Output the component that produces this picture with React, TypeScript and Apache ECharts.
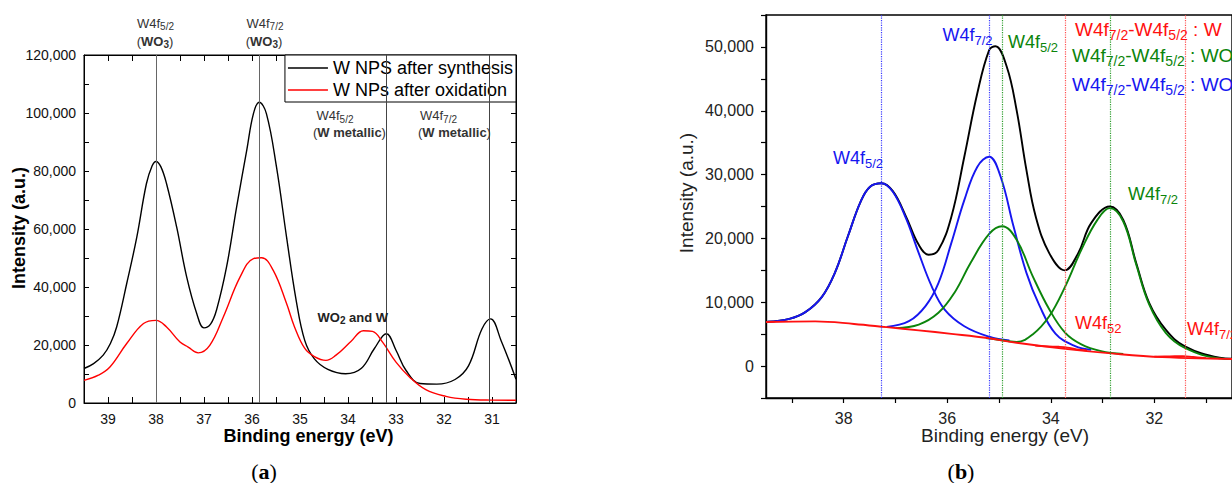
import React, { useEffect, useRef } from 'react';
import * as echarts from 'echarts';

const FONT = '"Liberation Sans", Arial, Helvetica, sans-serif';
const SERIF = '"Liberation Serif", "Times New Roman", serif';

// ---------- Panel (a) ----------
const legendA = ['W NPS after synthesis', 'W NPs after oxidation'];
const synthesisA: [number, number][] = [
  [39.5, 11900], [39.3, 13600], [39.1, 16500], [38.95, 20500], [38.82, 26200], [38.61, 41200],
  [38.4, 57200], [38.2, 75600], [38.08, 81800], [38.0, 83300], [37.9, 81500], [37.78, 75600],
  [37.57, 60700], [37.36, 43400], [37.15, 30800], [37.0, 25900], [36.86, 27300], [36.74, 32000],
  [36.53, 46900], [36.32, 67600], [36.11, 87100], [35.97, 99800], [35.85, 103700], [35.7, 99800],
  [35.49, 81400], [35.28, 57200], [35.08, 35400], [34.9, 21500], [34.7, 15200], [34.42, 11600],
  [34.05, 10100], [33.72, 12000], [33.45, 18800], [33.2, 23900], [33.0, 18200], [32.79, 11200],
  [32.5, 6700], [32.15, 6500], [31.77, 8100], [31.49, 12800], [31.21, 25500], [31.03, 29000],
  [30.81, 21500], [30.5, 8200],
];
const oxidationA: [number, number][] = [
  [39.5, 7800], [39.2, 9600], [38.96, 12400], [38.61, 20500], [38.26, 27400], [38.0, 28500],
  [37.78, 26200], [37.5, 21000], [37.33, 19300], [37.12, 17300], [36.88, 19900], [36.6, 29600],
  [36.25, 43400], [35.97, 49800], [35.8, 50100], [35.56, 45800], [35.28, 34300], [35.12, 26500],
  [34.9, 18800], [34.7, 16000], [34.46, 14700], [34.25, 16500], [33.94, 21200], [33.68, 24900],
  [33.49, 24700], [33.28, 21000], [33.0, 14100], [32.72, 9000], [32.38, 4600], [31.96, 2300],
  [31.54, 1300], [31.0, 1000], [30.5, 950],
];
const refLinesWO3A = [38.0, 35.85];
const refLinesWA = [33.2, 31.05];

// ---------- Panel (b) ----------
const envelopeB: [number, number][] = [
  [39.47, 6950], [39.05, 7400], [38.74, 8450], [38.42, 10850], [38.17, 14600], [37.92, 20300],
  [37.67, 25800], [37.49, 28100], [37.27, 28650], [37.05, 27400], [36.8, 23500], [36.55, 19000],
  [36.36, 17450], [36.17, 18200], [35.92, 23400], [35.67, 32800], [35.42, 42700], [35.19, 49500],
  [35.07, 50100], [34.85, 46900], [34.66, 40100], [34.47, 30700], [34.29, 23400], [34.03, 17700],
  [33.73, 15000], [33.47, 17700], [33.22, 22400], [32.86, 25000], [32.6, 22900], [32.35, 16150],
  [32.1, 9900], [31.78, 5700], [31.41, 3100], [30.74, 1300], [30.5, 1150],
];
const wo3f52B: [number, number][] = [
  [39.47, 6950], [39.05, 7400], [38.74, 8450], [38.42, 10850], [38.17, 14600], [37.92, 20300],
  [37.67, 25800], [37.49, 28100], [37.27, 28650], [37.05, 27300], [36.8, 23200], [36.55, 17700],
  [36.3, 12500], [36.05, 8850], [35.67, 6250], [35.19, 4600], [34.8, 4000],
];
const wo3f72B: [number, number][] = [
  [37.17, 6150], [36.74, 7030], [36.42, 9400], [36.17, 13000], [35.92, 19300], [35.67, 26000],
  [35.42, 31200], [35.19, 32800], [34.97, 29700], [34.72, 21900], [34.47, 14600], [34.22, 9500],
  [33.91, 5100], [33.53, 3130], [33.22, 2550],
];
const wo2f52B: [number, number][] = [
  [36.99, 5950], [36.55, 6500], [36.17, 8350], [35.86, 11500], [35.55, 16150], [35.19, 20700],
  [34.94, 21900], [34.66, 19800], [34.35, 14100], [34.03, 8900], [33.72, 5200], [33.41, 3400],
  [33.03, 2350], [32.6, 1900],
];
const wo2f72B: [number, number][] = [
  [35.25, 4400], [35.04, 4170], [34.66, 3800], [34.35, 4950], [34.03, 7800], [33.72, 12500],
  [33.41, 18200], [33.1, 22900], [32.86, 24750], [32.6, 22650], [32.35, 15900], [32.1, 9650],
  [31.78, 5200], [31.41, 2850], [30.74, 1200], [30.5, 1120],
];
const backgroundB: [number, number][] = [
  [39.5, 6900], [38.55, 7000], [37.8, 6600], [37.17, 6100], [36.55, 5600], [35.92, 5050],
  [35.19, 4350], [34.66, 3650], [33.72, 2700], [32.78, 1950], [31.85, 1400], [30.74, 1150], [30.5, 1100],
];
const wf52B: [number, number][] = [
  [34.3, 3200], [34.05, 3080], [33.85, 3020], [33.68, 2900], [33.5, 2620], [33.3, 2450],
];
const wf72B: [number, number][] = [
  [32.0, 1480], [31.7, 1520], [31.45, 1560], [31.25, 1420], [31.0, 1250],
];
const refLinesWO3B = [37.27, 35.18];
const refLinesWO2B = [34.93, 32.86];
const refLinesWB = [33.72, 31.4];
const ticksB = [31, 32, 33, 34, 35, 36, 37, 38, 39];
const labelsB = [32, 34, 36, 38];

const BLUE = '#1616f0';
const GREEN = '#0b840b';
const RED = '#ff1010';

const subRich = (F: number, f: number, Lm: number, Ls: number, extra: any = {}) => ({
  m: { fontSize: F, lineHeight: Lm, verticalAlign: 'middle', fontFamily: FONT, ...extra },
  s: { fontSize: f, lineHeight: Ls, verticalAlign: 'bottom', fontFamily: FONT, ...extra },
});

const richA = {
  m: { fontSize: 13, lineHeight: 17, verticalAlign: 'middle', fontFamily: FONT },
  s: { fontSize: 10, lineHeight: 10, verticalAlign: 'bottom', fontFamily: FONT },
  p: { fontSize: 13, lineHeight: 17, verticalAlign: 'middle', fontFamily: FONT },
  b: { fontSize: 13, lineHeight: 17, verticalAlign: 'middle', fontFamily: FONT, fontWeight: 'bold' },
  bs: { fontSize: 10, lineHeight: 10, verticalAlign: 'bottom', fontFamily: FONT, fontWeight: 'bold' },
};

const txt = (x: number, y: number, text: string, rich: any, fill: string, align = 'left', extra: any = {}) => ({
  type: 'text',
  x,
  y,
  z: 100,
  silent: true,
  ...extra,
  style: { text, rich, fill, align, verticalAlign: 'middle', fontFamily: FONT },
});

const plain = (x: number, y: number, text: string, size: number, weight: string, fill: string, rotation = 0) => ({
  type: 'text',
  x,
  y,
  z: 100,
  rotation,
  silent: true,
  style: { text, fill, fontSize: size, fontWeight: weight, fontFamily: FONT, align: 'center', verticalAlign: 'middle' },
});

const fmt = (v: number) => v.toLocaleString('en-US');

export default function App() {
  const ref = useRef<HTMLDivElement>(null);
  useEffect(() => {
    if (!ref.current) return;
    const chart = echarts.init(ref.current, undefined, { renderer: 'svg', width: 1232, height: 483 });

    const lineA = (name: string, data: [number, number][], color: string, extra: any = {}) => ({
      name, type: 'line', xAxisIndex: 0, yAxisIndex: 0, data, symbol: 'none', showSymbol: false,
      smooth: 0.4, lineStyle: { color, width: 1.4 }, itemStyle: { color }, ...extra,
    });
    const lineB = (data: [number, number][], color: string, extra: any = {}) => ({
      type: 'line', xAxisIndex: 2, yAxisIndex: 2, data, symbol: 'none', showSymbol: false,
      smooth: 0.4, lineStyle: { color, width: 1.9 }, itemStyle: { color }, ...extra,
    });
    const markLines = (vals: number[], color: string, type: string, width: number) => ({
      type: 'line', xAxisIndex: 2, yAxisIndex: 2, data: [], symbol: 'none', silent: true,
      markLine: {
        silent: true, symbol: 'none', label: { show: false },
        lineStyle: { color, type, width },
        data: vals.map((v) => ({ xAxis: v })),
      },
    });

    const richBL = subRich(19, 14, 25, 14);
    const richBP = subRich(18, 13, 24, 13);
    const legLine = (last: string, lastSub: string) =>
      `{m|W4f}{s|7/2}{m|-W4f}{s|5/2}{m| : ${last}}` + (lastSub ? `{s|${lastSub}}` : '');

    const option: any = {
      animation: false,
      backgroundColor: '#fff',
      textStyle: { fontFamily: FONT },
      grid: [
        { left: 84, top: 55, width: 432, height: 348, show: true, borderColor: '#000', borderWidth: 1, backgroundColor: 'transparent' },
        { left: 766, top: 15, width: 480, height: 383, show: true, borderColor: '#000', borderWidth: 1.4, backgroundColor: 'transparent' },
      ],
      xAxis: [
        {
          gridIndex: 0, type: 'value', min: 30.5, max: 39.5, interval: 0.5, inverse: true, position: 'bottom',
          axisLine: { show: true, onZero: false, lineStyle: { color: '#000', width: 1 } },
          axisTick: { show: true, inside: true, length: 6, lineStyle: { color: '#000' } },
          axisLabel: { show: true, interval: 0, margin: 9, fontSize: 14, color: '#111', fontFamily: FONT,
            formatter: (v: number) => (Number.isInteger(v) ? String(v) : '') },
          splitLine: { show: false },
        },
        {
          gridIndex: 0, type: 'value', min: 30.5, max: 39.5, interval: 0.5, inverse: true, position: 'top',
          axisLine: { show: true, onZero: false, lineStyle: { color: '#000', width: 1 } },
          axisTick: { show: true, inside: true, length: 6, lineStyle: { color: '#000' } },
          axisLabel: { show: false },
          splitLine: { show: false },
        },
        {
          gridIndex: 1, type: 'value', min: 30.5, max: 39.5, inverse: true, position: 'bottom',
          axisLine: { show: true, onZero: false, lineStyle: { color: '#000', width: 1.4 } },
          axisTick: { show: true, inside: false, length: 5, customValues: ticksB, lineStyle: { color: '#000', width: 1.2 } },
          axisLabel: { show: true, customValues: labelsB, margin: 12, fontSize: 16, color: '#222', fontFamily: FONT,
            formatter: (v: number) => String(v) },
          splitLine: { show: false },
        },
      ],
      yAxis: [
        {
          gridIndex: 0, type: 'value', min: 0, max: 120000, interval: 10000, position: 'left',
          axisLine: { show: true, onZero: false, lineStyle: { color: '#000', width: 1 } },
          axisTick: { show: true, inside: true, length: 5, lineStyle: { color: '#000' } },
          axisLabel: { show: true, margin: 8, fontSize: 14, color: '#111', fontFamily: FONT,
            formatter: (v: number) => (v % 20000 === 0 ? fmt(v) : '') },
          splitLine: { show: false },
        },
        {
          gridIndex: 0, type: 'value', min: 0, max: 120000, interval: 10000, position: 'right',
          axisLine: { show: true, onZero: false, lineStyle: { color: '#000', width: 1 } },
          axisTick: { show: true, inside: true, length: 5, lineStyle: { color: '#000' } },
          axisLabel: { show: false },
          splitLine: { show: false },
        },
        {
          gridIndex: 1, type: 'value', min: -5000, max: 55000, interval: 5000, position: 'left',
          axisLine: { show: true, onZero: false, lineStyle: { color: '#000', width: 1.4 } },
          axisTick: { show: true, inside: false, length: 5, lineStyle: { color: '#000', width: 1.2 } },
          axisLabel: { show: true, margin: 12, fontSize: 16, color: '#222', fontFamily: FONT,
            formatter: (v: number) => (v % 10000 === 0 ? fmt(v) : '') },
          splitLine: { show: false },
        },
      ],
      legend: {
        data: legendA, orient: 'vertical', right: 1232 - 516, top: 55, align: 'left',
        icon: 'rect', itemWidth: 40, itemHeight: 1.5, itemGap: 4, padding: [4, 3, 3, 3],
        backgroundColor: '#fff', borderColor: '#000', borderWidth: 1, borderRadius: 0,
        textStyle: { fontSize: 18, color: '#000', fontFamily: FONT },
      },
      series: [
        lineA(legendA[0], synthesisA, '#000', {
          markLine: {
            silent: true, symbol: 'none', label: { show: false },
            lineStyle: { color: '#666', type: 'solid', width: 1 },
            data: refLinesWO3A.map((v) => ({ xAxis: v })),
          },
        }),
        lineA(legendA[1], oxidationA, '#ff0000', {
          markLine: {
            silent: true, symbol: 'none', label: { show: false },
            lineStyle: { color: '#444', type: 'solid', width: 1 },
            data: refLinesWA.map((v) => ({ xAxis: v })),
          },
        }),
        markLines(refLinesWO3B, '#3a3aff', 'dotted', 1.2),
        markLines(refLinesWO2B, '#2e9e2e', 'dotted', 1.2),
        markLines(refLinesWB, '#ff5050', 'dotted', 1.2),
        lineB(envelopeB, '#000'),
        lineB(wo3f52B, BLUE),
        lineB(wo3f72B, BLUE),
        lineB(wo2f52B, GREEN),
        lineB(wo2f72B, GREEN),
        lineB(wf52B, RED),
        lineB(wf72B, RED),
        lineB(backgroundB, RED),
      ],
      graphic: [
        // panel (a) annotations
        txt(155.5, 23, '{m|W4f}{s|5/2}', richA, '#333', 'center'),
        txt(155, 41, '{p|(}{b|WO}{bs|3}{p|)}', richA, '#333', 'center'),
        txt(265, 23, '{m|W4f}{s|7/2}', richA, '#333', 'center'),
        txt(264, 41, '{p|(}{b|WO}{bs|3}{p|)}', richA, '#333', 'center'),
        txt(316.5, 115.5, '{m|W4f}{s|5/2}', richA, '#333', 'left'),
        txt(313, 132.5, '{p|(}{b|W metallic}{p|)}', richA, '#333', 'left'),
        txt(420, 115.5, '{m|W4f}{s|7/2}', richA, '#333', 'left'),
        txt(418, 132.5, '{p|(}{b|W metallic}{p|)}', richA, '#333', 'left'),
        txt(317.5, 317, '{b|WO}{bs|2}{b| and W}', richA, '#222', 'left'),
        plain(308.5, 436, 'Binding energy (eV)', 18, 'bold', '#000'),
        plain(18.5, 228, 'Intensity (a.u.)', 18, 'bold', '#000', Math.PI / 2),
        txt(264, 471, '{p|(}{b|a}{p|)}', {
          p: { fontSize: 22, fontFamily: SERIF, lineHeight: 26, verticalAlign: 'middle' },
          b: { fontSize: 22, fontFamily: SERIF, fontWeight: 'bold', lineHeight: 26, verticalAlign: 'middle' },
        }, '#000', 'center'),
        // panel (b) annotations
        txt(1075, 29, legLine('W', ''), richBL, RED, 'left'),
        txt(1072, 55.5, legLine('WO', '2'), richBL, GREEN, 'left'),
        txt(1072, 84, legLine('WO', '3'), richBL, BLUE, 'left'),
        txt(833, 158, '{m|W4f}{s|5/2}', richBP, BLUE, 'left'),
        txt(942.5, 35, '{m|W4f}{s|7/2}', richBP, BLUE, 'left'),
        txt(1008, 41.5, '{m|W4f}{s|5/2}', richBP, GREEN, 'left'),
        txt(1128, 193.5, '{m|W4f}{s|7/2}', richBP, GREEN, 'left'),
        txt(1075, 323, '{m|W4f}{s|52}', richBP, RED, 'left'),
        txt(1187, 329, '{m|W4f}{s|7/2}', richBP, RED, 'left'),
        plain(1005, 435, 'Binding energy (eV)', 19, 'normal', '#222'),
        plain(686, 193, 'Intensity (a.u.)', 19, 'normal', '#222', Math.PI / 2),
        txt(961, 471, '{p|(}{b|b}{p|)}', {
          p: { fontSize: 22, fontFamily: SERIF, lineHeight: 26, verticalAlign: 'middle' },
          b: { fontSize: 22, fontFamily: SERIF, fontWeight: 'bold', lineHeight: 26, verticalAlign: 'middle' },
        }, '#000', 'center'),
      ],
    };
    chart.setOption(option);
    return () => chart.dispose();
  }, []);
  return (
    <div
      ref={ref}
      style={{ position: 'fixed', left: 0, top: 0, width: 1232, height: 483, background: '#fff', overflow: 'hidden' }}
    />
  );
}
